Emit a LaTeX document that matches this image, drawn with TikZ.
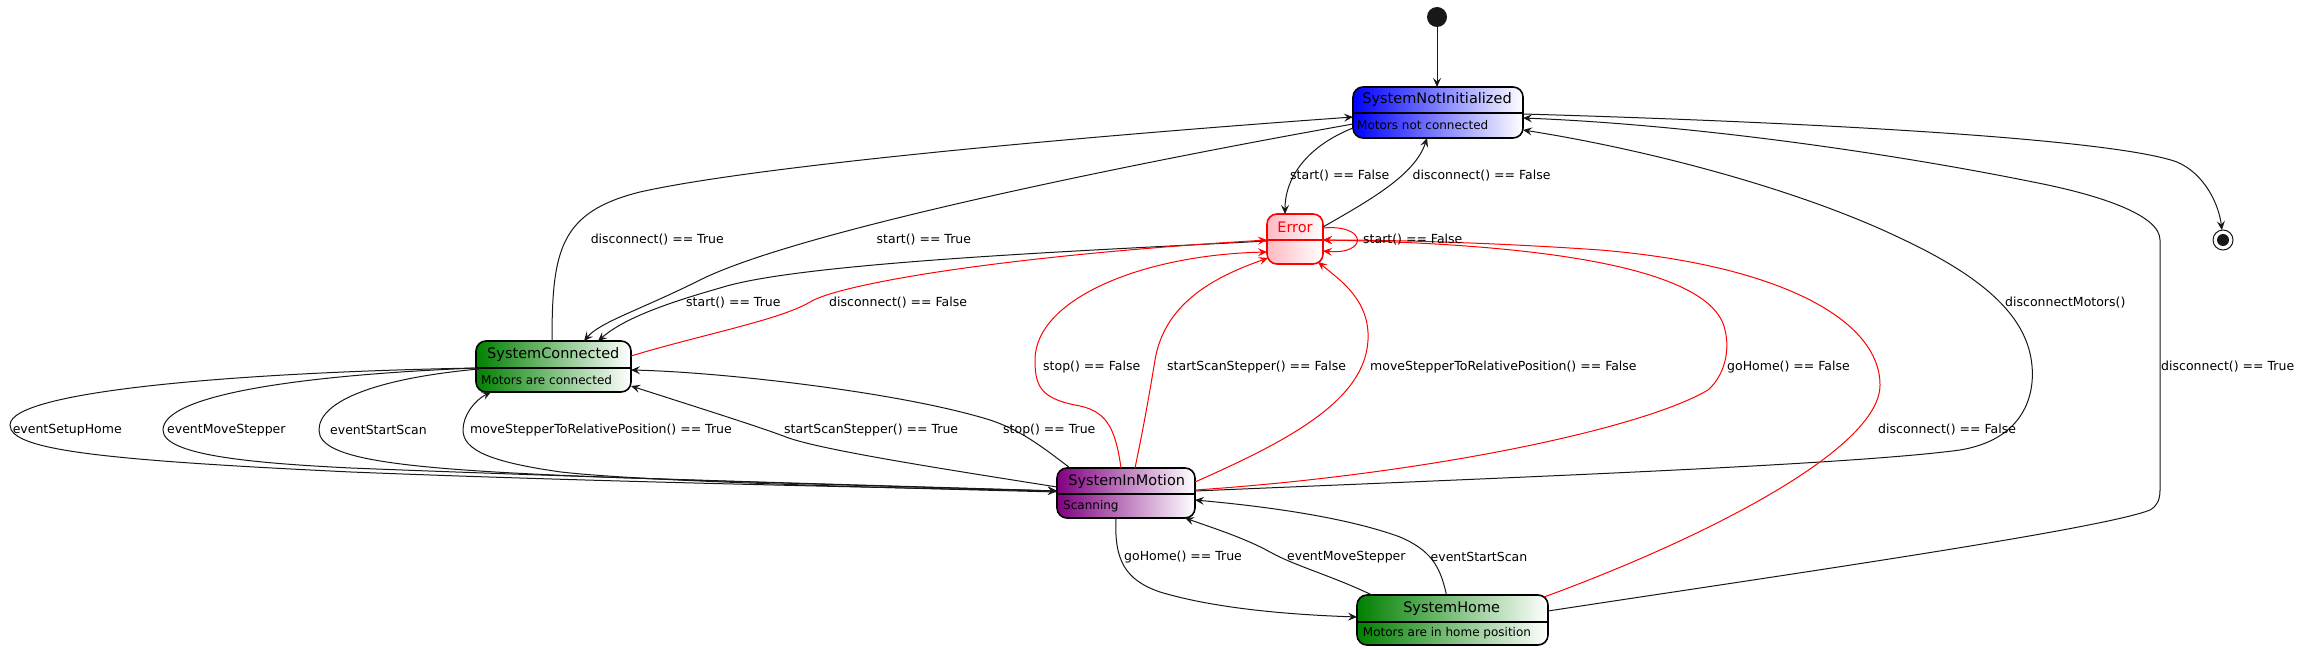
\documentclass[tikz,border=0pt]{standalone}
\usepackage{fontspec}
\setmainfont{DejaVu Sans}
\usetikzlibrary{arrows.meta,calc}
\definecolor{lc}{HTML}{181818}
\definecolor{pgreen}{RGB}{0,128,0}
\definecolor{ppurple}{RGB}{128,0,128}
\definecolor{ppink}{RGB}{255,185,195}
\definecolor{pblue}{RGB}{0,0,255}
\begin{document}
\begin{tikzpicture}[x=1pt,y=-1pt,
  stbox/.style={draw=black, line width=1.6pt, rounded corners=10pt, inner sep=0pt, outer sep=0pt},
  divline/.style={line width=1.6pt},
  ttl/.style={font=\fontsize{14.5}{17}\selectfont, inner sep=0pt, text=black},
  dsc/.style={font=\fontsize{12}{14}\selectfont, inner sep=0pt, anchor=west, text=black},
  lbl/.style={font=\fontsize{12.5}{15}\selectfont, inner sep=0pt, anchor=west, text=black},
  tr/.style={draw=lc, line width=1pt, -{Stealth[length=9pt,width=8pt,inset=3.5pt]}},
  rtr/.style={tr, draw=red},
]
\fill[white] (0,0) rectangle (2304,650);
\useasboundingbox (0,0) rectangle (2304,650);

% states
\node[stbox, minimum width=170pt, minimum height=51pt, left color=pblue, right color=white] (sni) at (1438,112.5) {};
\draw[divline] ([yshift=-0.5pt]sni.west) -- ([yshift=-0.5pt]sni.east);
\node[ttl] (snit) at (1437,100) {SystemNotInitialized};
\node[dsc] (snid) at (1357,125.5) {Motors not connected};

\node[stbox, draw=red, minimum width=56pt, minimum height=50pt, left color=ppink, right color=white] (err) at (1295,239) {};
\draw[divline, red] ([yshift=-1pt]err.west) -- ([yshift=-1pt]err.east);
\node[ttl, text=red] (errt) at (1295,227) {Error};

\node[stbox, minimum width=155pt, minimum height=51pt, left color=pgreen, right color=white] (sc) at (553.5,366.5) {};
\draw[divline] ([yshift=-1.5pt]sc.west) -- ([yshift=-1.5pt]sc.east);
\node[ttl] (sct) at (553.3,354.5) {SystemConnected};
\node[dsc] (scd) at (481,380) {Motors are connected};

\node[stbox, minimum width=138pt, minimum height=50pt, left color=ppurple, right color=white] (sim) at (1126,493) {};
\draw[divline] ([yshift=-1pt]sim.west) -- ([yshift=-1pt]sim.east);
\node[ttl] (simt) at (1126.7,481) {SystemInMotion};
\node[dsc] (simd) at (1063,506) {Scanning};

\node[stbox, minimum width=191pt, minimum height=50pt, left color=pgreen, right color=white] (sh) at (1452.5,620) {};
\draw[divline] ([yshift=-2pt]sh.west) -- ([yshift=-2pt]sh.east);
\node[ttl] (sht) at (1451.7,608.5) {SystemHome};
\node[dsc] (shd) at (1362.7,633.5) {Motors are in home position};

\node[circle, fill=lc, minimum size=20pt, inner sep=0pt, outer sep=0pt] (init) at (1437,17) {};
\node[circle, draw=lc, line width=1pt, minimum size=20pt, inner sep=0pt, outer sep=0pt] (fin) at (2223,240) {};
\node[circle, fill=lc, minimum size=12pt, inner sep=0pt] (fin2) at (2223,240) {};

% black transitions
\draw[tr] (init) -- (init |- sni.north);
\draw[tr] ($(sni.east)+(0,1.5)$) .. controls (1800,122) and (2110,138) .. (2177,162) .. controls (2205,174) and (2219,205) .. (fin);
\draw[tr] ($(sc.north)+(-1.5,0)$) .. controls (552,250) and (560,212) .. (640,192) .. controls (760,165) and (1100,135) .. ($(sni.west)+(0,4.5)$);
\draw[tr] ($(sni.west)+(0,11.5)$) .. controls (1150,160) and (800,230) .. (700,280) .. controls (640,310) and (600,322) .. ($(sc.north)+(30.5,0)$);
\draw[tr] ($(err.west)+(0,2)$) .. controls (1100,250) and (800,262) .. (720,288) .. controls (660,305) and (622,320) .. ($(sc.north)+(44.5,0)$);
\draw[tr] ($(sni.west)+(0,15.5)$) .. controls (1310,145) and (1285,175) .. ($(err.north)+(-10,0)$);
\draw[tr] ($(err.east)+(0,-12)$) .. controls (1370,200) and (1415,175) .. ($(sni.south)+(-11,0)$);

\draw[tr] ($(sc.west)+(1,1.5)$) .. controls (250,372) and (10,390) .. (10,425) .. controls (10,450) and (100,460) .. (351,472) .. controls (600,482) and (900,488) .. ($(sim.west)+(0,-2)$);
\draw[tr] ($(sc.west)+(1,1.5)$) .. controls (300,375) and (163,395) .. (163,430) .. controls (163,455) and (250,463) .. (351,468) .. controls (600,478) and (900,486) .. ($(sim.west)+(0,-2)$);
\draw[tr] ($(sc.west)+(3,2.5)$) .. controls (380,378) and (319,400) .. (319,430) .. controls (319,460) and (400,470) .. (631,478) .. controls (800,484) and (950,488) .. ($(sim.west)+(0,-2)$);
\draw[tr] ($(sim.west)+(0,-1)$) .. controls (900,488) and (650,482) .. (561,472) .. controls (490,462) and (463,450) .. (463,430) .. controls (463,415) and (475,400) .. ($(sc.south west)+(15,0)$);
\draw[tr] ($(sim.west)+(0,-6)$) .. controls (950,470) and (820,450) .. (786,437) .. controls (760,427) and (690,405) .. ($(sc.east)+(0,19.5)$);
\draw[tr] ($(sim.north west)+(13,0)$) .. controls (1040,445) and (1020,430) .. (990,420) .. controls (900,392) and (720,372) .. ($(sc.east)+(0,3.5)$);

\draw[tr] ($(sim.east)+(0,-2)$) .. controls (1500,478) and (1850,465) .. (1960,450) .. controls (2020,440) and (2035,400) .. (2032,366) .. controls (2028,320) and (1990,280) .. (1900,238) .. controls (1800,190) and (1650,150) .. ($(sni.east)+(0,17.5)$);
\draw[tr] ($(sh.east)+(0,-9)$) .. controls (1750,580) and (2100,530) .. (2150,510) .. controls (2157,506) and (2160,500) .. (2160,490) -- (2160,240) .. controls (2160,215) and (2100,195) .. (2033,182) .. controls (1900,155) and (1700,125) .. ($(sni.east)+(0,5.5)$);

\draw[tr] ($(sim.south)+(-10,0)$) .. controls (1114,560) and (1125,580) .. (1160,592) .. controls (1220,610) and (1300,615) .. ($(sh.west)+(0,-3)$);
\draw[tr] ($(sh.north west)+(15,0)$) .. controls (1330,575) and (1295,566) .. (1270,552) .. controls (1245,538) and (1210,527) .. ($(sim.south east)+(-10,0)$);
\draw[tr] ($(sh.north)+(-6,0)$) .. controls (1440,565) and (1430,550) .. (1400,537) .. controls (1340,515) and (1250,505) .. ($(sim.east)+(0,7)$);

% red transitions
\draw[rtr] ($(sc.east)+(0,-10.5)$) .. controls (700,335) and (780,320) .. (810,302) .. controls (840,284) and (1000,256) .. ($(err.west)+(0,1)$);
\draw[rtr] ($(err.east)+(0,-11)$) .. controls (1368,224) and (1368,255) .. ($(err.east)+(0,12)$);
\draw[rtr] ($(sim.north)+(-5,0)$) .. controls (1115,425) and (1105,410) .. (1075,405) .. controls (1040,398) and (1035,385) .. (1035,360) .. controls (1035,300) and (1140,255) .. ($(err.west)+(0,13)$);
\draw[rtr] ($(sim.north)+(9,0)$) .. controls (1145,420) and (1150,390) .. (1155,360) .. controls (1165,300) and (1220,275) .. ($(err.west)+(1,19)$);
\draw[rtr] ($(sim.east)+(0,-11)$) .. controls (1290,440) and (1365,400) .. (1368,340) .. controls (1370,300) and (1340,280) .. ($(err.south east)+(-5,-2)$);
\draw[rtr] ($(sim.east)+(0,-3)$) .. controls (1420,475) and (1640,430) .. (1708,390) .. controls (1725,375) and (1730,350) .. (1725,330) .. controls (1715,280) and (1600,245) .. ($(err.east)+(0,1)$);
\draw[rtr] ($(sh.north east)+(-4,2)$) .. controls (1700,540) and (1880,450) .. (1880,385) .. controls (1880,320) and (1780,265) .. (1600,250) .. controls (1500,243) and (1400,240) .. ($(err.east)+(0,1)$);

% labels
\node[lbl] (l1) at (590.6,240) {disconnect() == True};
\node[lbl] (l2) at (876.5,240) {start() == True};
\node[lbl] (l3) at (686,302.7) {start() == True};
\node[lbl] (l4) at (829,302.7) {disconnect() == False};
\node[lbl] (l5) at (1290,175.7) {start() == False};
\node[lbl] (l6) at (1412.5,175.7) {disconnect() == False};
\node[lbl] (l7) at (1363,240) {start() == False};
\node[lbl] (l8) at (1043,366.7) {stop() == False};
\node[lbl] (l9) at (1167,366.7) {startScanStepper() == False};
\node[lbl] (l10) at (1370,366.7) {moveStepperToRelativePosition() == False};
\node[lbl] (l11) at (1727,366.7) {goHome() == False};
\node[lbl] (l12) at (1878,429.7) {disconnect() == False};
\node[lbl] (l13) at (2005,302.7) {disconnectMotors()};
\node[lbl] (l14) at (2161,366.7) {disconnect() == True};
\node[lbl] (l15) at (12.6,430) {eventSetupHome};
\node[lbl] (l16) at (167,430) {eventMoveStepper};
\node[lbl] (l17) at (330,430) {eventStartScan};
\node[lbl] (l18) at (470,430) {moveStepperToRelativePosition() == True};
\node[lbl] (l19) at (784,430) {startScanStepper() == True};
\node[lbl] (l20) at (1003,430) {stop() == True};
\node[lbl] (l21) at (1124,556.7) {goHome() == True};
\node[lbl] (l22) at (1287,556.7) {eventMoveStepper};
\node[lbl] (l23) at (1430.5,556.7) {eventStartScan};
\end{tikzpicture}
\end{document}
